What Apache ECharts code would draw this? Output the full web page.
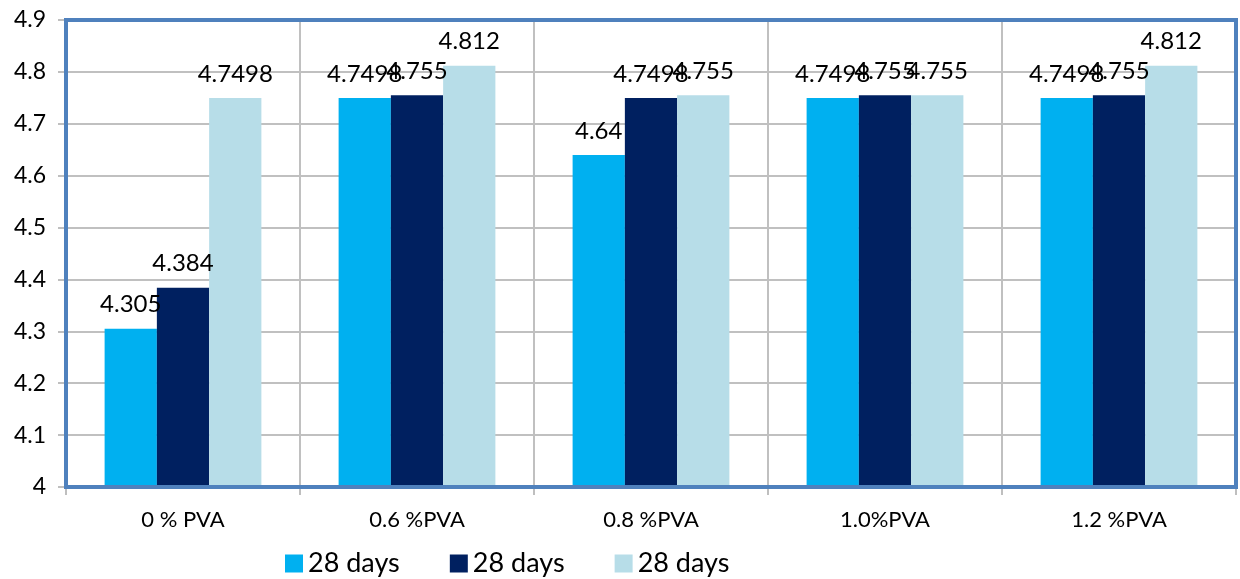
<!DOCTYPE html>
<html>
<head>
<meta charset="utf-8">
<script src="https://cdn.jsdelivr.net/npm/echarts@6/dist/echarts.min.js"></script>
<style>
html,body{margin:0;padding:0;background:#fff;}
#c{width:1240px;height:579px;}
</style>
</head>
<body>
<div id="c"></div>
<script>
const categories = ['0 % PVA', '0.6 %PVA', '0.8 %PVA', '1.0%PVA', '1.2 %PVA'];
const seriesLabels = ['28 days', '28 days', '28 days'];
const seriesA = [4.305, 4.7498, 4.64, 4.7498, 4.7498];
const seriesB = [4.384, 4.755, 4.7498, 4.755, 4.755];
const seriesC = [4.7498, 4.812, 4.755, 4.755, 4.812];
const yTicks = { min: 4, max: 4.9, interval: 0.1 };
const colors = ['#00b0f0', '#002060', '#b7dde8'];

const FONT = 'Lato';
const ids = ['s0', 's1', 's2'];
const values = [seriesA, seriesB, seriesC];

const chart = echarts.init(document.getElementById('c'), null, { renderer: 'canvas' });
chart.setOption({
  animation: false,
  textStyle: { fontFamily: FONT },
  grid: {
    left: 66, right: 4, top: 20, bottom: 92, z: 5,
    show: true, borderColor: '#4f81bd', borderWidth: 4, backgroundColor: 'transparent'
  },
  legend: {
    left: 280, top: 545,
    itemWidth: 18, itemHeight: 18, itemGap: 50,
    icon: 'rect',
    data: ids,
    formatter: function (n) { return seriesLabels[ids.indexOf(n)]; },
    textStyle: { fontSize: 27, color: '#000', fontFamily: FONT }
  },
  xAxis: {
    type: 'category',
    data: categories,
    axisLine: { show: false },
    axisTick: { show: true, length: 8, lineStyle: { color: '#bfbfbf', width: 2 } },
    splitLine: { show: true, lineStyle: { color: '#c0c0c0', width: 2 } },
    axisLabel: { color: '#000', fontSize: 22, margin: 22, fontFamily: FONT }
  },
  yAxis: {
    type: 'value',
    min: yTicks.min, max: yTicks.max, interval: yTicks.interval,
    axisLine: { show: false },
    axisTick: { show: true, length: 8, lineStyle: { color: '#bfbfbf', width: 2 } },
    splitLine: { show: true, lineStyle: { color: '#c0c0c0', width: 2 } },
    axisLabel: {
      color: '#000', fontSize: 23, margin: 20, fontFamily: FONT,
      formatter: function (v) { return String(Math.round(v * 10) / 10); }
    }
  },
  series: ids.map(function (id, i) {
    return {
      type: 'bar',
      name: id,
      data: values[i],
      barGap: '0%',
      barCategoryGap: '33%',
      itemStyle: { color: colors[i] },
      label: {
        show: true, position: 'top', distance: 12,
        color: '#000', fontSize: 24, fontFamily: FONT,
        formatter: function (p) { return String(p.value); }
      }
    };
  })
});
</script>
</body>
</html>
